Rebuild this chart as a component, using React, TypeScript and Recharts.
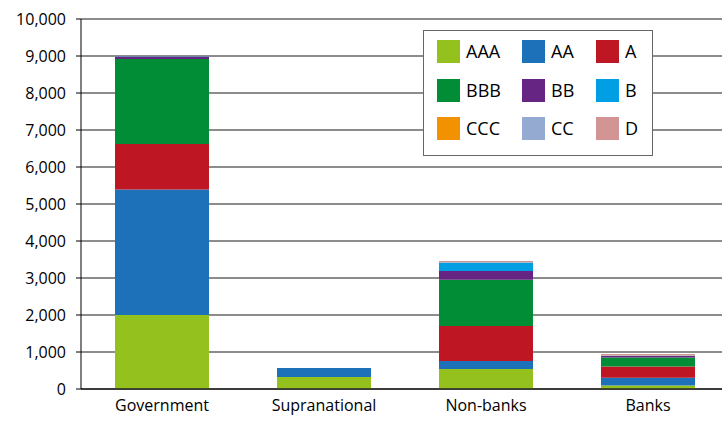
import { BarChart, Bar, XAxis, YAxis, CartesianGrid, Legend } from 'recharts';

const CATEGORIES = ['Government', 'Supranational', 'Non-banks', 'Banks'];

const AAA = [2000, 325, 540, 95];
const AA = [3390, 245, 215, 210];
const A = [1230, 0, 945, 300];
const BBB = [2300, 0, 1250, 245];
const BB = [60, 0, 240, 40];
const B = [5, 0, 215, 10];
const CCC = [0, 0, 5, 5];
const CC = [5, 0, 20, 10];
const D = [5, 0, 30, 30];

const Y_TICKS = [0, 1000, 2000, 3000, 4000, 5000, 6000, 7000, 8000, 9000, 10000];

const SERIES = [
  { key: 'AAA', values: AAA, color: '#95c11f' },
  { key: 'AA', values: AA, color: '#1d71b8' },
  { key: 'A', values: A, color: '#be1622' },
  { key: 'BBB', values: BBB, color: '#008d36' },
  { key: 'BB', values: BB, color: '#662483' },
  { key: 'B', values: B, color: '#009fe3' },
  { key: 'CCC', values: CCC, color: '#f39200' },
  { key: 'CC', values: CC, color: '#95aad1' },
  { key: 'D', values: D, color: '#d39494' },
];

const data = CATEGORIES.map((name, i) => {
  const row: Record<string, string | number> = { name };
  SERIES.forEach((s) => {
    row[s.key] = s.values[i];
  });
  return row;
});

const FONT = '"Open Sans", sans-serif';

function LegendBox(props: any) {
  const payload = props.payload || [];
  // keep the series order, not the sorted one
  const items = SERIES.map((s) => payload.find((p: any) => p.value === s.key) || { value: s.key, color: s.color });
  return (
    <div
      style={{
        width: 230,
        height: 126,
        border: '1px solid #666',
        background: '#fff',
        boxSizing: 'border-box',
        padding: '9px 0 0 13px',
        display: 'grid',
        gridTemplateColumns: '85px 74px 50px',
        gridAutoRows: '38.5px',
        fontFamily: FONT,
        fontSize: 18,
        color: '#000',
      }}
    >
      {items.map((p: any) => (
        <div key={p.value} style={{ display: 'flex', alignItems: 'flex-start' }}>
          <span style={{ width: 23, height: 23, background: p.color, display: 'inline-block' }} />
          <span style={{ marginLeft: 6, lineHeight: '23px' }}>{p.value}</span>
        </div>
      ))}
    </div>
  );
}

export default function App() {
  return (
    <div style={{ width: 722, height: 421, overflow: 'hidden', fontFamily: FONT }}>
      <style>{'body{margin:0;overflow:hidden}'}</style>
      <BarChart
        width={740}
        height={421}
        data={data}
        margin={{ top: 19, right: 11, bottom: 0, left: 0 }}
        barCategoryGap={34}
      >
        <CartesianGrid vertical={false} stroke="#666" strokeWidth={1.5} />
        <XAxis
          dataKey="name"
          height={32}
          tickLine={false}
          axisLine={{ stroke: '#222', strokeWidth: 1.5 }}
          tick={{ fill: '#000', fontSize: 16, fontFamily: FONT }}
          tickMargin={5}
          interval={0}
        />
        <YAxis
          width={81}
          domain={[0, 10000]}
          ticks={Y_TICKS}
          interval={0}
          tickFormatter={(v: number) => v.toLocaleString('en-US')}
          tick={{ fill: '#000', fontSize: 16, fontFamily: FONT }}
          tickLine={{ stroke: '#000' }}
          tickSize={5}
          tickMargin={10}
          axisLine={{ stroke: '#000' }}
        />
        <Legend
          layout="horizontal"
          verticalAlign="middle"
          align="center"
          wrapperStyle={{ position: 'absolute', left: 423, top: 30, width: 230, height: 126 }}
          content={<LegendBox />}
        />
        {SERIES.map((s) => (
          <Bar
            key={s.key}
            dataKey={s.key}
            stackId="r"
            fill={s.color}
            isAnimationActive={false}
          />
        ))}
      </BarChart>
    </div>
  );
}
